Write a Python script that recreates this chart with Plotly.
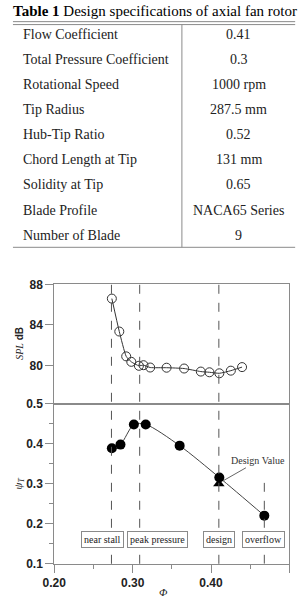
import plotly.graph_objects as go

W, H = 299, 604

# ---------------- data ----------------
table_title_bold = "Table 1"
table_title_rest = "Design specifications of axial fan rotor"
spec_names = ["Flow Coefficient", "Total Pressure Coefficient", "Rotational Speed",
              "Tip Radius", "Hub-Tip Ratio", "Chord Length at Tip", "Solidity at Tip",
              "Blade Profile", "Number of Blade"]
spec_values = ["0.41", "0.3", "1000 rpm", "287.5 mm", "0.52", "131 mm", "0.65",
               "NACA65 Series", "9"]

spl_phi = [0.2735, 0.283, 0.2918, 0.2983, 0.308, 0.3139, 0.3224, 0.3433,
           0.3657, 0.387, 0.398, 0.4106, 0.4253, 0.4396]
spl_db = [86.6, 83.35, 80.9, 80.36, 79.97, 80.03, 79.8, 79.78,
          79.7, 79.4, 79.33, 79.23, 79.49, 79.84]

psi_phi = [0.2735, 0.2845, 0.3016, 0.3167, 0.36, 0.4106, 0.468]
psi_val = [0.3885, 0.3976, 0.448, 0.448, 0.395, 0.3154, 0.2202]

design_phi = [0.41]
design_psi = [0.30]

marker_phi = [0.273, 0.309, 0.41, 0.468]
marker_labels = ["near stall", "peak pressure", "design", "overflow"]

spl_ticks = [80, 84, 88]
psi_ticks = [0.1, 0.2, 0.3, 0.4, 0.5]
psi_minor = [0.15, 0.25, 0.35, 0.45]
phi_ticks = [0.2, 0.3, 0.4, 0.5]
phi_ticktext = ["0.20", "0.30", "0.40", "0.50"]
phi_minor = [0.25, 0.35, 0.45]

# ---------------- layout helpers (pixel -> paper) ----------------
def px(x):
    return x / W

def py(y):
    return 1 - y / H

GRAY = "#8a8a8a"
DARK = "#222222"
SERIF = "Liberation Serif, Times New Roman, serif"
SANS = "Liberation Sans, Arial, sans-serif"

fig = go.Figure()

fig.add_trace(go.Scatter(
    x=spl_phi, y=spl_db, xaxis="x", yaxis="y", mode="lines+markers",
    line=dict(color="#333333", width=1, shape="spline", smoothing=0.5),
    marker=dict(symbol="circle-open", size=9, color="#333333", line=dict(width=1)),
    showlegend=False, hoverinfo="skip"))

fig.add_trace(go.Scatter(
    x=psi_phi, y=psi_val, xaxis="x2", yaxis="y2", mode="lines+markers",
    line=dict(color="#444444", width=1, shape="spline", smoothing=0.8),
    marker=dict(symbol="circle", size=10, color="black"),
    showlegend=False, hoverinfo="skip"))

fig.add_trace(go.Scatter(
    x=design_phi, y=design_psi, xaxis="x2", yaxis="y2", mode="markers",
    marker=dict(symbol="triangle-up", size=10, color="black"),
    showlegend=False, hoverinfo="skip"))

xdom = [px(44), px(289)]
top_dom = [py(406), py(284)]
bot_dom = [py(570), py(406)]

axis_common = dict(showgrid=False, zeroline=False, showline=True, mirror=True,
                   linecolor=GRAY, linewidth=1, tickcolor=GRAY, tickwidth=1,
                   tickfont=dict(family=SANS, size=12, color=DARK, weight="bold"))

fig.update_layout(
    width=W, height=H, margin=dict(l=0, r=0, t=0, b=0),
    paper_bgcolor="white", plot_bgcolor="white",
    xaxis=dict(domain=xdom, anchor="y", range=[0.2, 0.5], showticklabels=False,
               ticks="", **axis_common),
    yaxis=dict(domain=top_dom, anchor="x", range=[76.24, 88], tickvals=spl_ticks,
               ticks="outside", ticklen=8, **axis_common),
    xaxis2=dict(domain=xdom, anchor="y2", range=[0.2, 0.5], tickvals=phi_ticks,
                ticktext=phi_ticktext, ticks="outside", ticklen=8,
                minor=dict(tickvals=phi_minor, ticks="outside", ticklen=4,
                           tickcolor=GRAY, showgrid=False),
                **axis_common),
    yaxis2=dict(domain=bot_dom, anchor="x2", range=[0.1, 0.5], tickvals=psi_ticks,
                ticktext=[f"{v:.1f}" for v in psi_ticks], ticks="outside", ticklen=8,
                minor=dict(tickvals=psi_minor, ticks="outside", ticklen=4,
                           tickcolor=GRAY, showgrid=False),
                **axis_common),
)

shapes = []
# dashed reference lines
for i, ph in enumerate(marker_phi):
    if i < 3:
        shapes.append(dict(type="line", xref="x2", yref="paper", x0=ph, x1=ph,
                           y0=bot_dom[0], y1=top_dom[1],
                           line=dict(color="#555555", width=1, dash="dash")))
    else:
        shapes.append(dict(type="line", xref="x2", yref="y2", x0=ph, x1=ph,
                           y0=0.1, y1=0.302,
                           line=dict(color="#555555", width=1, dash="dash")))

# table lines
for yy in (15, 18, 246):
    shapes.append(dict(type="line", xref="paper", yref="paper", x0=px(1), x1=px(295),
                       y0=py(yy), y1=py(yy), line=dict(color=GRAY, width=1)))
shapes.append(dict(type="line", xref="paper", yref="paper", x0=px(177), x1=px(177),
                   y0=py(18), y1=py(246), line=dict(color=GRAY, width=1)))

annotations = []
annotations.append(dict(xref="paper", yref="paper", x=px(149), y=py(4),
                        xanchor="center", yanchor="middle", showarrow=False,
                        text=f"<b>{table_title_bold}</b> {table_title_rest}",
                        font=dict(family=SERIF, size=15, color="black")))
row_y0, row_dy = 28, 25.7
for i, (nm, val) in enumerate(zip(spec_names, spec_values)):
    yy = row_y0 + row_dy * i
    annotations.append(dict(xref="paper", yref="paper", x=px(9), y=py(yy),
                            xanchor="left", yanchor="middle", showarrow=False,
                            text=nm, font=dict(family=SERIF, size=14, color=DARK)))
    annotations.append(dict(xref="paper", yref="paper", x=px(236), y=py(yy),
                            xanchor="center", yanchor="middle", showarrow=False,
                            text=val, font=dict(family=SERIF, size=14, color=DARK)))

# boxed labels
label_x = [0.2618, 0.332, 0.4106, 0.4669]
for lx, lab in zip(label_x, marker_labels):
    annotations.append(dict(xref="x2", yref="y2", x=lx, y=0.161,
                            xanchor="center", yanchor="middle", showarrow=False,
                            text=lab, bgcolor="white", bordercolor=GRAY,
                            borderwidth=1, borderpad=2,
                            font=dict(family=SERIF, size=10, color=DARK)))

# design value callout
annotations.append(dict(xref="x2", yref="y2", x=0.4155, y=0.3073,
                        ax=35, ay=-20, showarrow=True, arrowhead=0, arrowwidth=1,
                        arrowcolor="#666666", standoff=0,
                        text="Design Value",
                        font=dict(family=SERIF, size=10, color="#333333")))

# axis titles
annotations.append(dict(xref="paper", yref="paper", x=px(7), y=py(344),
                        xanchor="center", yanchor="middle", showarrow=False,
                        textangle=-90,
                        text="<i><span style='font-family:Liberation Serif'>SPL</span></i> "
                             "<b>dB</b>",
                        font=dict(family=SANS, size=10, color=DARK)))
annotations.append(dict(xref="paper", yref="paper", x=px(7), y=py(488),
                        xanchor="center", yanchor="middle", showarrow=False,
                        textangle=-90, text="<i>ψ<sub>T</sub></i>",
                        font=dict(family=SERIF, size=11, color=DARK)))
annotations.append(dict(xref="paper", yref="paper", x=px(158), y=py(599),
                        xanchor="center", yanchor="middle", showarrow=False,
                        text="<i>Φ</i>",
                        font=dict(family=SERIF, size=11, color=DARK)))

fig.update_layout(shapes=shapes, annotations=annotations)

fig.write_html("out.html")
